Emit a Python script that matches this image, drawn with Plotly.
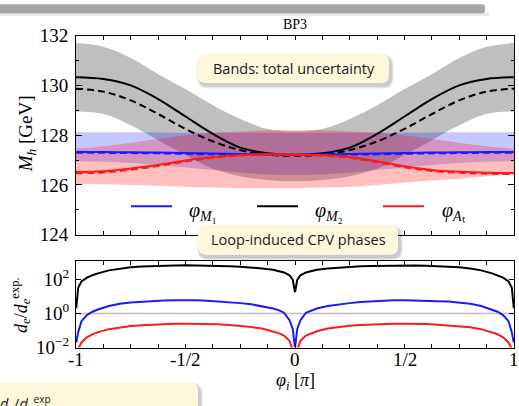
import plotly.graph_objects as go

W, H = 519, 406

# ---------------- upper panel: Higgs mass vs. phase (units of pi) ----------------
phi_m = [-1, -0.875, -0.75, -0.625, -0.5, -0.375, -0.25, -0.125, 0,
         0.125, 0.25, 0.375, 0.5, 0.625, 0.75, 0.875, 1]

mh_m2 = [130.33, 130.26, 130.0, 129.45, 128.75, 128.05, 127.5, 127.27, 127.2,
         127.27, 127.5, 128.05, 128.75, 129.45, 130.0, 130.26, 130.33]
mh_m2_dash = [129.87, 129.75, 129.4, 128.85, 128.25, 127.75, 127.4, 127.22, 127.17,
              127.22, 127.4, 127.75, 128.25, 128.85, 129.4, 129.75, 129.87]
mh_m2_hi = [131.7, 131.55, 131.1, 130.45, 129.85, 129.2, 128.65, 128.25, 128.15,
            128.25, 128.65, 129.2, 129.85, 130.45, 131.1, 131.55, 131.7]
mh_m2_lo = [128.95, 128.85, 128.4, 127.8, 127.2, 126.65, 126.35, 126.2, 126.15,
            126.2, 126.35, 126.65, 127.2, 127.8, 128.4, 128.85, 128.95]

mh_m1 = [127.32, 127.32, 127.31, 127.3, 127.28, 127.26, 127.24, 127.22, 127.21,
         127.22, 127.24, 127.26, 127.28, 127.3, 127.31, 127.32, 127.32]
mh_m1_dash = [127.29, 127.29, 127.28, 127.27, 127.25, 127.23, 127.22, 127.21, 127.2,
              127.21, 127.22, 127.23, 127.25, 127.27, 127.28, 127.29, 127.29]
mh_m1_hi = [128.12, 128.12, 128.12, 128.11, 128.1, 128.1, 128.1, 128.1, 128.1,
            128.1, 128.1, 128.1, 128.1, 128.11, 128.12, 128.12, 128.12]
mh_m1_lo = [126.95, 126.93, 126.88, 126.8, 126.7, 126.6, 126.5, 126.42, 126.4,
            126.42, 126.5, 126.6, 126.7, 126.8, 126.88, 126.93, 126.95]

mh_at = [126.52, 126.55, 126.66, 126.8, 126.98, 127.12, 127.2, 127.23, 127.22,
         127.2, 127.12, 126.95, 126.75, 126.6, 126.53, 126.49, 126.48]
mh_at_dash = [126.47, 126.5, 126.61, 126.76, 126.94, 127.09, 127.18, 127.21, 127.2,
              127.18, 127.09, 126.91, 126.71, 126.56, 126.49, 126.45, 126.44]
mh_at_hi = [127.45, 127.55, 127.7, 127.85, 128.0, 128.1, 128.15, 128.2, 128.2,
            128.2, 128.15, 128.1, 128.0, 127.85, 127.7, 127.55, 127.45]
mh_at_lo = [126.05, 126.03, 126.0, 125.97, 125.93, 125.9, 125.88, 125.88, 125.88,
            125.9, 125.92, 126.0, 126.1, 126.18, 126.25, 126.35, 126.42]

# ---------------- lower panel: electron EDM relative to the bound ----------------
phi_e = [-0.999, -0.99, -0.975, -0.95, -0.925, -0.9, -0.85, -0.8, -0.75, -0.7,
         -0.65, -0.6, -0.55, -0.5, -0.45, -0.4, -0.35, -0.3, -0.25, -0.2,
         -0.15, -0.1, -0.075, -0.05, -0.025, -0.01, -0.001,
         0.001, 0.01, 0.025, 0.05, 0.075, 0.1, 0.15, 0.2, 0.25, 0.3,
         0.35, 0.4, 0.45, 0.5, 0.55, 0.6, 0.65, 0.7, 0.75, 0.8,
         0.85, 0.9, 0.925, 0.95, 0.975, 0.99, 0.999]

de_m2 = [2, 32, 75, 125, 170, 220, 330, 420, 495, 555,
         595, 625, 645, 650, 645, 625, 600, 570, 530, 485,
         430, 360, 310, 250, 170, 90, 20,
         20, 90, 170, 250, 310, 360, 430, 485, 530, 570,
         600, 625, 645, 650, 645, 625, 595, 555, 495, 420,
         330, 220, 170, 125, 75, 32, 2]
de_m1 = [0.02, 0.08, 0.35, 0.8, 1.25, 1.7, 2.7, 3.7, 4.4, 4.9,
         5.2, 5.6, 5.8, 5.9, 5.8, 5.5, 5.1, 4.6, 4.0, 3.4,
         2.7, 1.95, 1.55, 1.1, 0.4, 0.12, 0.012,
         0.012, 0.12, 0.4, 1.1, 1.55, 1.95, 2.7, 3.4, 4.0, 4.6,
         5.1, 5.5, 5.8, 5.9, 5.8, 5.6, 5.2, 4.9, 4.4, 3.7,
         2.7, 1.7, 1.25, 0.8, 0.35, 0.08, 0.02]
de_at = [0.0008, 0.008, 0.02, 0.04, 0.06, 0.08, 0.12, 0.155, 0.185, 0.2,
         0.22, 0.24, 0.25, 0.25, 0.25, 0.24, 0.23, 0.21, 0.19, 0.16,
         0.13, 0.09, 0.07, 0.05, 0.025, 0.007, 0.0005,
         0.0005, 0.007, 0.025, 0.05, 0.07, 0.09, 0.13, 0.16, 0.19, 0.21,
         0.23, 0.24, 0.25, 0.25, 0.25, 0.24, 0.22, 0.2, 0.185, 0.155,
         0.12, 0.08, 0.06, 0.04, 0.02, 0.008, 0.0008]

x_ticks = [-1, -0.5, 0, 0.5, 1]
x_ticktext = ["-1", "-1/2", "0", "1/2", "1"]
y_ticks_edm = [0.01, 1, 100]
y_ticktext_edm = ["10<sup>−2</sup>", "10<sup>0</sup>", "10<sup>2</sup>"]

BLUE = "#1a1aff"
RED = "#ff1a1a"
BLACK = "#000000"
SERIF = "Liberation Serif"
SANS = "Open Sans"


def px(x):
    return x / W


def py(y):
    return 1 - y / H


fig = go.Figure()


def band(lo, hi, color):
    fig.add_trace(go.Scatter(x=phi_m, y=lo, mode="lines", line=dict(width=0, shape="spline"),
                             hoverinfo="skip", showlegend=False, xaxis="x", yaxis="y"))
    fig.add_trace(go.Scatter(x=phi_m, y=hi, mode="lines", line=dict(width=0, shape="spline"),
                             fill="tonexty", fillcolor=color, hoverinfo="skip",
                             showlegend=False, xaxis="x", yaxis="y"))


band(mh_m2_lo, mh_m2_hi, "rgba(0,0,0,0.25)")
band(mh_m1_lo, mh_m1_hi, "rgba(0,0,255,0.22)")
band(mh_at_lo, mh_at_hi, "rgba(255,0,0,0.25)")

for ys, col, dash in [(mh_m2_dash, BLACK, "7px,4px"), (mh_m2, BLACK, "solid"),
                      (mh_m1_dash, BLUE, "7px,4px"), (mh_m1, BLUE, "solid"),
                      (mh_at_dash, RED, "7px,4px"), (mh_at, RED, "solid")]:
    fig.add_trace(go.Scatter(x=phi_m, y=ys, mode="lines",
                             line=dict(color=col, width=2, dash=dash, shape="spline"),
                             showlegend=False, xaxis="x", yaxis="y"))

# reference level d_e = d_e^exp
fig.add_trace(go.Scatter(x=[-1, 1], y=[1, 1], mode="lines",
                         line=dict(color="#bdbdbd", width=1.5),
                         showlegend=False, xaxis="x2", yaxis="y2"))
for ys, col in [(de_m2, BLACK), (de_m1, BLUE), (de_at, RED)]:
    fig.add_trace(go.Scatter(x=phi_e, y=ys, mode="lines", line=dict(color=col, width=2),
                             showlegend=False, xaxis="x2", yaxis="y2"))

dom_x = [px(76), px(514)]
axis_common = dict(showline=True, linecolor="black", linewidth=1, mirror="allticks",
                   ticks="inside", tickcolor="black", tickwidth=1, showgrid=False,
                   zeroline=False, tickfont=dict(family=SERIF, size=19, color="black"))

fig.update_layout(
    width=W, height=H, margin=dict(l=0, r=0, t=0, b=0),
    paper_bgcolor="white", plot_bgcolor="white", showlegend=False,
    xaxis=dict(domain=dom_x, range=[-1, 1], anchor="y", dtick=0.125, tick0=-1,
               ticklen=4, showticklabels=False, **axis_common),
    yaxis=dict(domain=[py(237), py(27)], range=[124, 132], anchor="x", dtick=2,
               ticklen=6, minor=dict(dtick=1, ticklen=3, ticks="inside", tickcolor="black"),
               ticklabelstandoff=3, **axis_common),
    # phase labels of the lower axis are placed as annotations on the x2 scale
    xaxis2=dict(domain=dom_x, range=[-1, 1], anchor="y2", tickmode="array",
                tickvals=x_ticks, ticklen=4, showticklabels=False,
                minor=dict(dtick=0.125, tick0=-1, ticklen=4, ticks="inside", tickcolor="black"),
                **axis_common),
    yaxis2=dict(domain=[py(356), py(265)], type="log", range=[-2, 3.05], anchor="x2",
                tickmode="array", tickvals=y_ticks_edm, ticktext=y_ticktext_edm,
                ticklen=5, ticklabelstandoff=2, **axis_common),
)

shapes = []


def rrect_path(x0, y0, x1, y1, r):
    pts = [
        ("M", [(x0 + r, y0)]), ("L", [(x1 - r, y0)]), ("Q", [(x1, y0), (x1, y0 + r)]),
        ("L", [(x1, y1 - r)]), ("Q", [(x1, y1), (x1 - r, y1)]), ("L", [(x0 + r, y1)]),
        ("Q", [(x0, y1), (x0, y1 - r)]), ("L", [(x0, y0 + r)]), ("Q", [(x0, y0), (x0 + r, y0)]),
    ]
    out = ""
    for cmd, ps in pts:
        out += cmd + " " + " ".join(f"{px(a):.5f},{py(b):.5f}" for a, b in ps) + " "
    return out + "Z"


def note_box(x0, y0, x1, y1):
    # soft drop shadow, then the cream box
    for g, a in [(3, 0.05), (2, 0.07), (1, 0.09)]:
        shapes.append(dict(type="path", xref="paper", yref="paper", layer="above",
                           path=rrect_path(x0 + 2 - g, y0 + 3 - g, x1 + 2 + g, y1 + 3 + g, 8 + g),
                           fillcolor=f"rgba(0,0,0,{a})", line=dict(width=0)))
    shapes.append(dict(type="path", xref="paper", yref="paper", layer="above",
                       path=rrect_path(x0, y0, x1, y1, 8),
                       fillcolor="#fdf8dc", line=dict(width=0)))


note_box(198, 47, 389, 77)
note_box(198, 227, 398, 258)
note_box(-20, 393, 198, 430)

# header strip along the top edge
shapes.append(dict(type="rect", xref="paper", yref="paper", layer="above",
                   x0=px(0), x1=px(489), y0=py(6), y1=py(3),
                   fillcolor="rgba(0,0,0,0.10)", line=dict(width=0)))
shapes.append(dict(type="path", xref="paper", yref="paper", layer="above",
                   path=rrect_path(-10, -6, 485, 3.5, 3),
                   fillcolor="#a2a7ab", line=dict(width=0)))

# legend line samples
for x0, x1, col in [(131, 172, BLUE), (257, 298, BLACK), (383, 424, RED)]:
    shapes.append(dict(type="line", xref="paper", yref="paper", layer="above",
                       x0=px(x0), x1=px(x1), y0=py(207), y1=py(207),
                       line=dict(color=col, width=2)))

fig.update_layout(shapes=shapes)

ann = []


def text(x, y, s, size, family=SERIF, xanchor="center", yanchor="middle", angle=0,
         color="black", xref="paper"):
    ann.append(dict(x=x if xref != "paper" else px(x), y=py(y), xref=xref, yref="paper",
                    text=s, showarrow=False, xanchor=xanchor, yanchor=yanchor, textangle=angle,
                    font=dict(family=family, size=size, color=color)))


for v, lab in zip(x_ticks, x_ticktext):
    text(v, 369, lab, 19, xref="x2")

text(295, 15, "BP3", 14)
text(294, 62, "Bands: total uncertainty", 14.5, family=SANS, color="#1a1a1a")
text(298, 242, "Loop-induced CPV phases", 14.5, family=SANS, color="#1a1a1a")
text(-2, 401, "<i>d</i><sub>e</sub>/<i>d</i><sub>e</sub><sup>exp</sup>",
     14.5, family=SANS, xanchor="left", yanchor="top", color="#1a1a1a")
text(27, 131, "<i>M</i><sub><i>h</i></sub> [GeV]", 19, angle=-90)
text(21, 311, "<i>d</i><sub><i>e</i></sub>/<i>d</i><sub><i>e</i></sub><sup>exp.</sup>", 18, angle=-90)
text(295, 392, "<i>φ</i><sub><i>i</i></sub> [<i>π</i>]", 18)
text(187, 212, "<i>φ</i><sub><i>M</i>₁</sub>", 20, xanchor="left")
text(313, 212, "<i>φ</i><sub><i>M</i>₂</sub>", 20, xanchor="left")
text(440, 212, "<i>φ</i><sub><i>A</i>ₜ</sub>", 20, xanchor="left")

fig.update_layout(annotations=ann)

fig.write_html("out.html")
